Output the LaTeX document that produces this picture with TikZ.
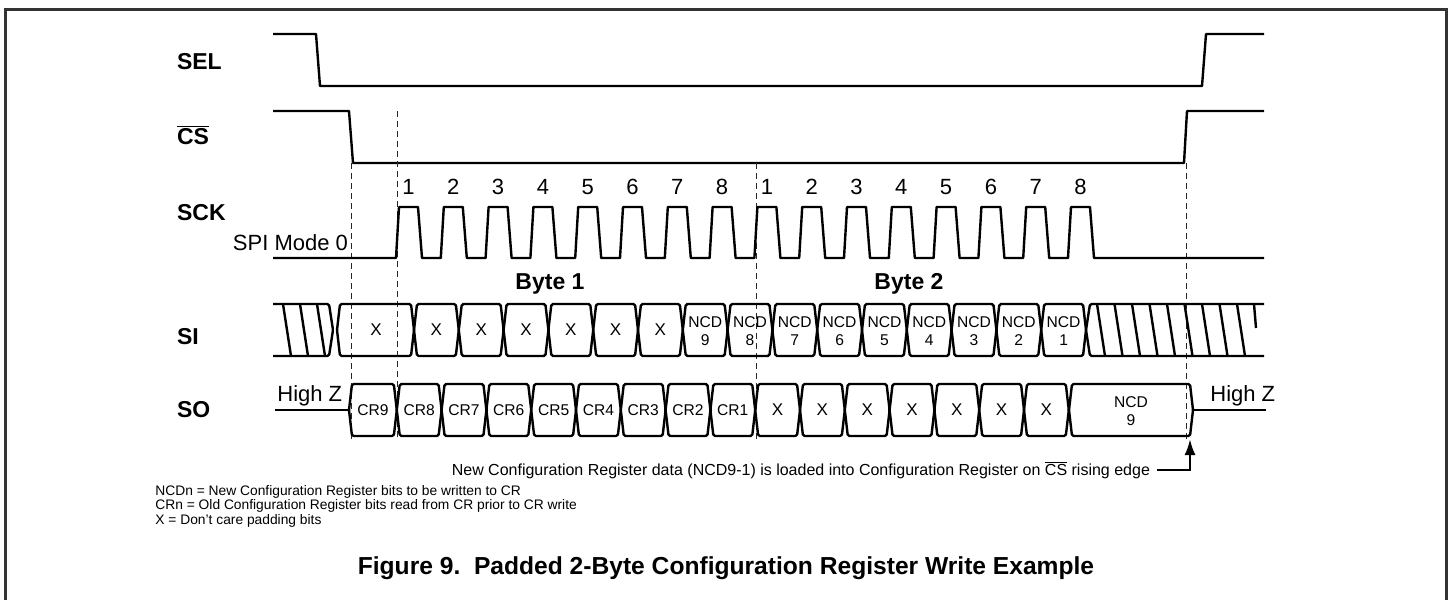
\documentclass[tikz,border=0pt]{standalone}
\usepackage{fontspec}
\setmainfont{Liberation Sans}
\usetikzlibrary{arrows.meta}

% one bus cell: left x, right x, top y, bottom y
\newcommand{\busbox}[4]{%
  \draw[bus] (#1+3,#3) -- (#2-3,#3) -- (#2,{(#3+#4)/2}) -- (#2-3,#4) -- (#1+3,#4) -- (#1,{(#3+#4)/2}) -- cycle;}
\newcommand{\ncs}{$\overline{\hbox{CS}}$}

\tikzset{
  sig/.style={line width=1.2pt, line join=round},
  bus/.style={line width=1.2pt, line join=round, rounded corners=0.8pt},
  guide/.style={densely dashed, line width=0.4pt, black!85},
  lbl/.style={font=\bfseries\fontsize{11.5}{13}\selectfont, anchor=west},
  num/.style={font=\fontsize{11}{13}\selectfont},
  bitx/.style={font=\fontsize{8.5}{10}\selectfont},
  bitn/.style={font=\fontsize{7.8}{9}\selectfont, align=center, inner sep=0pt},
  note/.style={font=\fontsize{8}{10}\selectfont},
  legend/.style={font=\fontsize{6.9}{8}\selectfont, anchor=west, inner sep=0pt},
}

\begin{document}
\begin{tikzpicture}[x=0.5pt, y=-0.5pt, >={Latex[length=8pt,width=5.5pt]}]
    \useasboundingbox (0,0) rectangle (1452,600);
    % khung
    \draw[line width=1.5pt, black!80] (5,600) -- (5,9) -- (1446,9) -- (1446,600);

    % ten tin hieu
    \node[lbl] (sel) at (170,62) {SEL};
    \node[lbl] (cs) at (170,135) {\ncs};
    \node[lbl] (sck) at (170,213) {SCK};
    \node[lbl] (si) at (170,337) {SI};
    \node[lbl] (so) at (170,410) {SO};

    % SEL va CS
    \draw[sig] (273,34) -- (316,34) -- (320,86) -- (1202,86) -- (1206,34) -- (1264,34);
    \draw[sig] (273,111) -- (349,111) -- (353,163) -- (1184,163) -- (1187,111) -- (1264,111);

    % duong gach
    \draw[guide] (351,163) -- (351,440);
    \draw[guide] (397,111) -- (397,440);
    \draw[guide] (756,163) -- (756,440);
    \draw[guide] (1186,163) -- (1186,440);

    % SCK
    \node[num, anchor=base east] (mode) at (355,250) {SPI Mode 0};
    \draw[sig] (273,258) \foreach \k in {0,...,15}{ -- ({396+44.8*\k},258) -- ({399+44.8*\k},207) -- ({418+44.8*\k},207) -- ({422+44.8*\k},258) } -- (1264,258);
    \foreach \k in {0,...,15}{
        \pgfmathtruncatemacro{\n}{mod(\k,8)+1}
        \node[num] (c\k) at ({408.5+44.8*\k},187) {\n};
    }
    \node[lbl, anchor=center] (byte1) at (550,284) {Byte 1};
    \node[lbl, anchor=center] (byte2) at (909,284) {Byte 2};

    % SI
    \draw[bus] (273,304) -- (329,304) -- (333,330) -- (329,356) -- (273,356);
    \foreach \t in {283,300,317} \draw[sig] (\t,304) -- (\t+8,356);
    \busbox{337}{414}{304}{356}
    \node[bitx] (x0) at (376,330) {X};
    \foreach \k in {0,...,5}{
        \pgfmathsetmacro{\a}{414+44.8*\k}
        \pgfmathsetmacro{\b}{414+44.8*(\k+1)}
        \busbox{\a}{\b}{304}{356}
        \node[bitx] (x\k) at ({(\a+\b)/2},330) {X};
    }
    \foreach \k in {6,...,14}{
        \pgfmathsetmacro{\a}{414+44.8*\k}
        \pgfmathsetmacro{\b}{414+44.8*(\k+1)}
        \pgfmathtruncatemacro{\n}{15-\k}
        \busbox{\a}{\b}{304}{356}
        \node[bitn] (ncd\n) at ({(\a+\b)/2},331) {NCD\\\n};
    }
    \draw[bus] (1264,304) -- (1090,304) -- (1086,330) -- (1090,356) -- (1264,356);
    \foreach \t in {1097,1114.5,...,1238} \draw[sig] (\t,304) -- (\t+8,356);
    \draw[sig] (1254,304) -- (1256,328);

    % SO
    \node[num, anchor=south west, inner sep=1pt] (hz1) at (275,408) {High Z};
    \draw[sig] (275,410) -- (349,410);
    \foreach \k in {0,...,8}{
        \pgfmathsetmacro{\a}{352+44.8*\k}
        \pgfmathsetmacro{\b}{352+44.8*(\k+1)}
        \pgfmathtruncatemacro{\n}{9-\k}
        \ifnum\k=0 \def\a{349}\fi
        \busbox{\a}{\b}{384}{436}
        \node[bitn] (cr\n) at ({(\a+\b)/2},410) {CR\n};
    }
    \foreach \k in {9,...,15}{
        \pgfmathsetmacro{\a}{352+44.8*\k}
        \pgfmathsetmacro{\b}{352+44.8*(\k+1)}
        \busbox{\a}{\b}{384}{436}
        \node[bitx] (y\k) at ({(\a+\b)/2},410) {X};
    }
    \busbox{1069}{1193}{384}{436}
    \node[bitn] (ncdso) at (1131,411) {NCD\\9};
    \draw[sig] (1193,410) -- (1266,410);
    \node[num, anchor=south west, inner sep=1pt] (hz2) at (1208,408) {High Z};

    % ghi chu
    \node[note, anchor=east] (load) at (1157,470) {New Configuration Register data (NCD9-1) is loaded into Configuration Register on \ncs{} rising edge};
    \coordinate (tip) at (1190,439);
    \draw[->, line width=1.2pt] (load.east) -| (tip);

    \node[legend] (lg1) at (155,492) {NCDn = New Configuration Register bits to be written to CR};
    \node[legend] (lg2) at (155,506) {CRn = Old Configuration Register bits read from CR prior to CR write};
    \node[legend] (lg3) at (155,521) {X = Don’t care padding bits};

    \node[font=\bfseries\fontsize{12.3}{14}\selectfont] (cap) at (726,568) {Figure 9.\ \ Padded 2-Byte Configuration Register Write Example};
\end{tikzpicture}
\end{document}
